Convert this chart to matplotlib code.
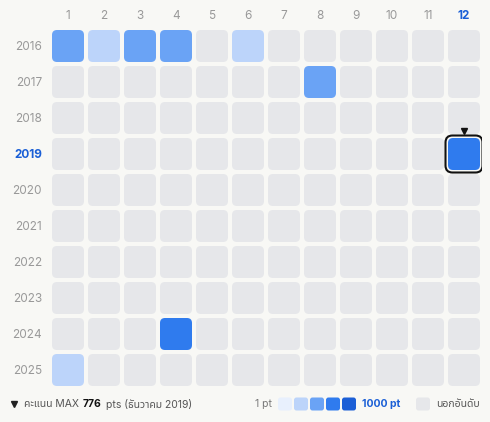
import matplotlib
matplotlib.use("Agg")
import matplotlib.pyplot as plt
from matplotlib.patches import FancyBboxPatch
import numpy as np

plt.rcParams['font.family'] = ['Inter', 'Noto Sans Thai', 'DejaVu Sans']

# data
years = list(range(2016, 2026))
months = list(range(1, 13))
score_year = [2016, 2016, 2016, 2016, 2016, 2017, 2019, 2024, 2025]
score_month = [1, 2, 3, 4, 6, 8, 12, 4, 1]
score_pts = [520, 310, 540, 500, 290, 480, 776, 690, 300]
bin_edges = [1, 200, 400, 600, 800, 1000]
level_colors = ['#e8f0fd', '#bcd4fa', '#6aa3f5', '#2f7bee', '#1c5fd6']
empty_color = '#e6e7ea'
bg = '#f8f8f5'
hl_color = '#1a5fd6'
label_color = '#999999'

max_i = int(np.argmax(score_pts))
max_year, max_month, max_pts = score_year[max_i], score_month[max_i], score_pts[max_i]

fig = plt.figure(figsize=(4.9, 4.22), dpi=100)
fig.patch.set_facecolor(bg)
ax = fig.add_axes([50 / 490, 34 / 422, 432 / 490, 360 / 422])
ax.set_facecolor(bg)
ax.set_xlim(0.5, 12.5)
ax.set_ylim(2025.5, 2015.5)
for s in ax.spines.values():
    s.set_visible(False)

cell = 32 / 36
rad = 5 / 36
lookup = {(y, m): p for y, m, p in zip(score_year, score_month, score_pts)}
for y in years:
    for m in months:
        p = lookup.get((y, m))
        if p is None:
            c = empty_color
        else:
            lvl = min(np.searchsorted(bin_edges, p, side='right') - 1, 4)
            c = level_colors[lvl]
        ax.add_patch(FancyBboxPatch((m - cell / 2, y - cell / 2), cell, cell,
                                    boxstyle=f"round,pad=0,rounding_size={rad}",
                                    fc=c, ec='none'))

# highlight max cell
b = 37 / 36
ax.add_patch(FancyBboxPatch((max_month - b / 2, max_year - b / 2), b, b,
                            boxstyle=f"round,pad=0,rounding_size={7 / 36}",
                            fc='none', ec='#111111', lw=1.5, zorder=3))
ax.plot(max_month, max_year - 0.65, marker='v', color='#111111', ms=5,
        clip_on=False, zorder=4)

ax.xaxis.tick_top()
ax.set_xticks(months)
ax.set_xticklabels([str(m) for m in months])
ax.set_yticks(years)
ax.set_yticklabels([str(y) for y in years])
ax.tick_params(axis='x', length=0, pad=4.5, labelsize=8.5, labelcolor=label_color)
ax.tick_params(axis='y', length=0, pad=5.8, labelsize=8.5, labelcolor=label_color)
for t in ax.get_xticklabels():
    if t.get_text() == str(max_month):
        t.set_color(hl_color)
        t.set_fontweight('bold')
for t in ax.get_yticklabels():
    if t.get_text() == str(max_year):
        t.set_color(hl_color)
        t.set_fontweight('bold')

# footer
fs = 7.5
fy = 1 - 404 / 422
foot = fig.add_axes([0, 0, 1, 1], zorder=-1)
foot.set_xlim(0, 490)
foot.set_ylim(422, 0)
foot.axis('off')
foot.plot(14, 404, marker='v', color='#222222', ms=4.5)

thai_months = ['มกราคม', 'กุมภาพันธ์', 'มีนาคม', 'เมษายน', 'พฤษภาคม', 'มิถุนายน',
               'กรกฎาคม', 'สิงหาคม', 'กันยายน', 'ตุลาคม', 'พฤศจิกายน', 'ธันวาคม']
t0 = fig.text(24 / 490, fy, "คะแนน MAX", va='center', ha='left', fontsize=fs, color='#555555')
a1 = ax.annotate(str(max_pts), xy=(1, 0.5), xycoords=t0, xytext=(2.8, 0),
                 textcoords='offset points', va='center', ha='left',
                 fontsize=fs, fontweight='bold', color='#111111')
ax.annotate(f"pts ({thai_months[max_month - 1]} {max_year})", xy=(1, 0.5), xycoords=a1,
            xytext=(2.8, 0), textcoords='offset points', va='center', ha='left',
            fontsize=fs, color='#555555')

fig.text(272 / 490, fy, "1 pt", va='center', ha='right', fontsize=fs, color='#777777')
for i, c in enumerate(level_colors):
    foot.add_patch(FancyBboxPatch((278 + 16 * i, 397.5), 14, 13,
                                  boxstyle="round,pad=0,rounding_size=2.5",
                                  fc=c, ec='none'))
fig.text(362 / 490, fy, "1000 pt", va='center', ha='left', fontsize=fs,
         fontweight='bold', color=hl_color)
foot.add_patch(FancyBboxPatch((416, 397.5), 14, 13,
                              boxstyle="round,pad=0,rounding_size=2.5",
                              fc=empty_color, ec='none'))
fig.text(436 / 490, fy, "นอกอันดับ", va='center', ha='left', fontsize=fs, color='#555555')

fig.savefig("out.png", facecolor=bg)
